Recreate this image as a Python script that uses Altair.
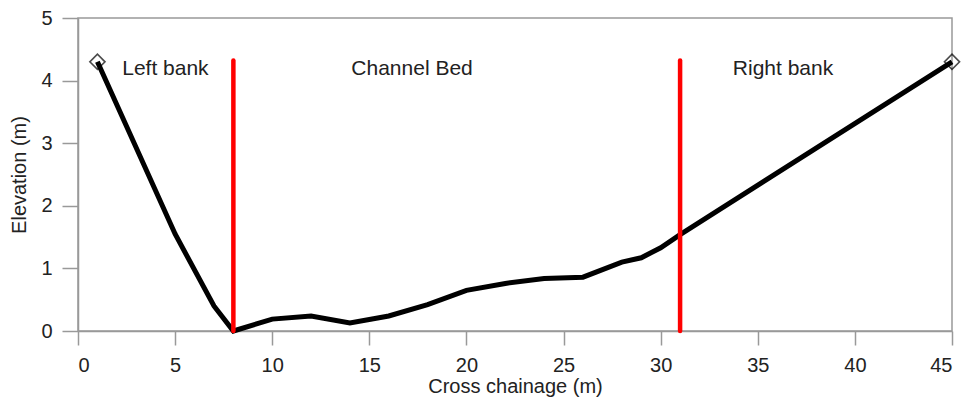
import altair as alt
import pandas as pd

# Profile data
chainage = [1, 5, 7, 8, 10, 12, 14, 16, 18, 20, 22, 24, 26, 28, 29, 30, 31, 45]
elevation = [4.3, 1.55, 0.4, 0.0, 0.19, 0.24, 0.13, 0.24, 0.42, 0.65, 0.76, 0.84, 0.86, 1.1, 1.17, 1.33, 1.54, 4.3]

# End markers
end_x = [1, 45]
end_y = [4.3, 4.3]

# Zone boundaries
bound_x = [8, 31]
bound_bottom = [0, 0]
bound_top = [4.32, 4.32]

# Zone labels
label_text = ["Left bank", "Channel Bed", "Right bank"]
label_x = [4.5, 17.2, 36.3]
label_y = [4.19, 4.19, 4.19]

profile = pd.DataFrame({"x": chainage, "y": elevation})
ends = pd.DataFrame({"x": end_x, "y": end_y})
bounds = pd.DataFrame({"x": bound_x, "y": bound_bottom, "y2": bound_top})
labels = pd.DataFrame({"x": label_x, "y": label_y, "t": label_text})

xscale = alt.Scale(domain=[0, 45], nice=False, zero=False)
yscale = alt.Scale(domain=[0, 5], nice=False)

xaxis = alt.Axis(values=[0, 5, 10, 15, 20, 25, 30, 35, 40, 45], title="Cross chainage (m)",
                 format="d", tickSize=14, labelPadding=10, titlePadding=1, grid=False)
yaxis = alt.Axis(values=[0, 1, 2, 3, 4, 5], title="Elevation (m)", format="d",
                 tickSize=16, labelPadding=10, titlePadding=11, grid=False)

line = alt.Chart(profile).mark_line(color="black", strokeWidth=5).encode(
    x=alt.X("x:Q", scale=xscale, axis=xaxis),
    y=alt.Y("y:Q", scale=yscale, axis=yaxis),
)

rules = alt.Chart(bounds).mark_rule(color="#ff0000", strokeWidth=4.5, strokeCap="round").encode(
    x="x:Q", y="y:Q", y2="y2:Q"
)

points = alt.Chart(ends).mark_point(shape="diamond", filled=False, color="black",
                                     size=230, strokeWidth=1.6).encode(
    x="x:Q", y="y:Q"
)

text = alt.Chart(labels).mark_text(fontSize=21, font="Liberation Sans", color="#222222").encode(
    x="x:Q", y="y:Q", text="t:N"
)

chart = alt.layer(line, rules, points, text).properties(
    width=874, height=313,
    autosize=alt.AutoSizeParams(type="none"),
    padding={"left": 70, "top": 10, "right": 12, "bottom": 66},
).configure_view(
    stroke="#999999", strokeWidth=1.5
).configure_axis(
    domainColor="#999999", domainWidth=1.5, tickColor="#999999", tickWidth=1.5,
    labelFont="Liberation Sans", labelFontSize=20, labelColor="#222222",
    titleFont="Liberation Sans", titleFontSize=20, titleFontWeight="normal", titleColor="#222222",
)

chart.save("out.html", embed_options={"renderer": "svg", "actions": False})
